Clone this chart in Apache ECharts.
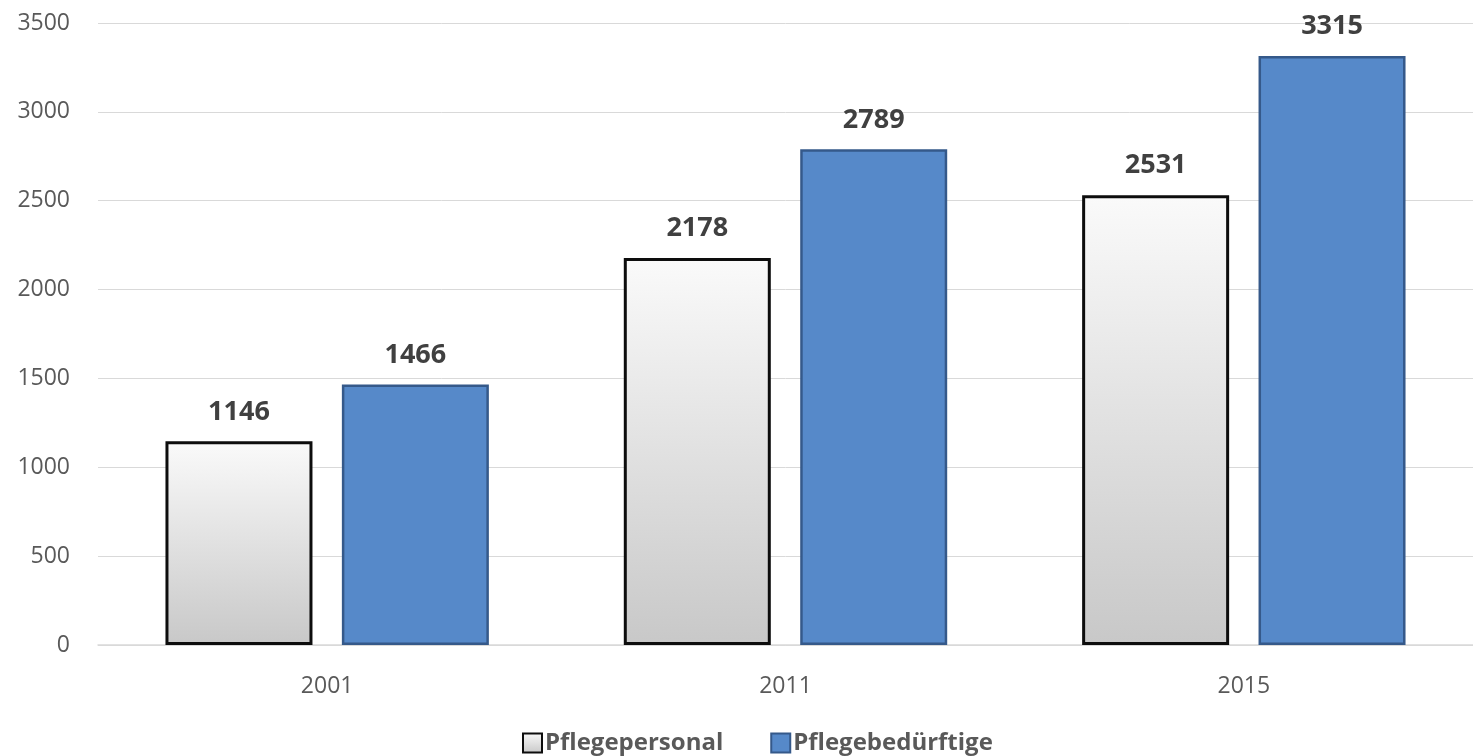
<!DOCTYPE html>
<html>
<head>
<meta charset="utf-8">
<script src="https://cdn.jsdelivr.net/npm/echarts@6/dist/echarts.min.js"></script>
<style>
  html, body { margin: 0; padding: 0; background: #fff; }
  #chart { width: 1473px; height: 756px; }
</style>
</head>
<body>
<div id="chart"></div>
<script>
// Daten
const years = ['2001', '2011', '2015']
const pflegepersonal = [1146, 2178, 2531]
const pflegebeduerftige = [1466, 2789, 3315]
const yTicks = [0, 500, 1000, 1500, 2000, 2500, 3000, 3500]

const chart = echarts.init(document.getElementById('chart'))

const labelStyle = {
  show: true,
  position: 'top',
  distance: 16,
  fontFamily: 'Open Sans',
  fontWeight: 'bold',
  fontSize: 27,
  color: '#404040',
}

const option = {
  animation: false,
  textStyle: { fontFamily: 'Open Sans' },
  // Achse läuft rechts über den Bildrand hinaus
  grid: {
    left: 98,
    top: 23,
    width: 1389,
    height: 622,
  },
  legend: {
    top: 731,
    left: 522,
    padding: 0,
    icon: 'rect',
    itemWidth: 19,
    itemHeight: 19,
    itemGap: 47,
    textStyle: {
      fontFamily: 'Open Sans',
      fontWeight: 'bold',
      fontSize: 24,
      color: '#595959',
      padding: [0, 0, 0, -2],
    },
    data: ['Pflegepersonal', 'Pflegebedürftige'],
  },
  xAxis: {
    type: 'category',
    data: years,
    axisTick: { show: false },
    axisLine: { lineStyle: { color: '#d9d9d9', width: 1.5 } },
    axisLabel: { fontSize: 23, color: '#595959', margin: 30 },
  },
  yAxis: {
    type: 'value',
    min: yTicks[0],
    max: yTicks[yTicks.length - 1],
    interval: 500,
    axisLine: { show: false },
    axisTick: { show: false },
    splitLine: { lineStyle: { color: '#d9d9d9', width: 1 } },
    axisLabel: {
      fontSize: 23,
      color: '#595959',
      margin: 28,
      align: 'right',
      formatter: (v) => String(v),
    },
  },
  series: [
    {
      name: 'Pflegepersonal',
      type: 'bar',
      data: pflegepersonal,
      barWidth: 147,
      barGap: '20%',
      itemStyle: {
        color: new echarts.graphic.LinearGradient(0, 0, 0, 1, [
          { offset: 0, color: '#fafafa' },
          { offset: 1, color: '#c8c8c8' },
        ]),
        borderColor: '#0d0d0d',
        borderWidth: 3,
      },
      label: labelStyle,
    },
    {
      name: 'Pflegebedürftige',
      type: 'bar',
      data: pflegebeduerftige,
      barWidth: 147,
      itemStyle: {
        color: '#5689c9',
        borderColor: '#35598a',
        borderWidth: 2.5,
      },
      label: labelStyle,
    },
  ],
}

chart.setOption(option)
window.addEventListener('resize', () => chart.resize())
</script>
</body>
</html>
